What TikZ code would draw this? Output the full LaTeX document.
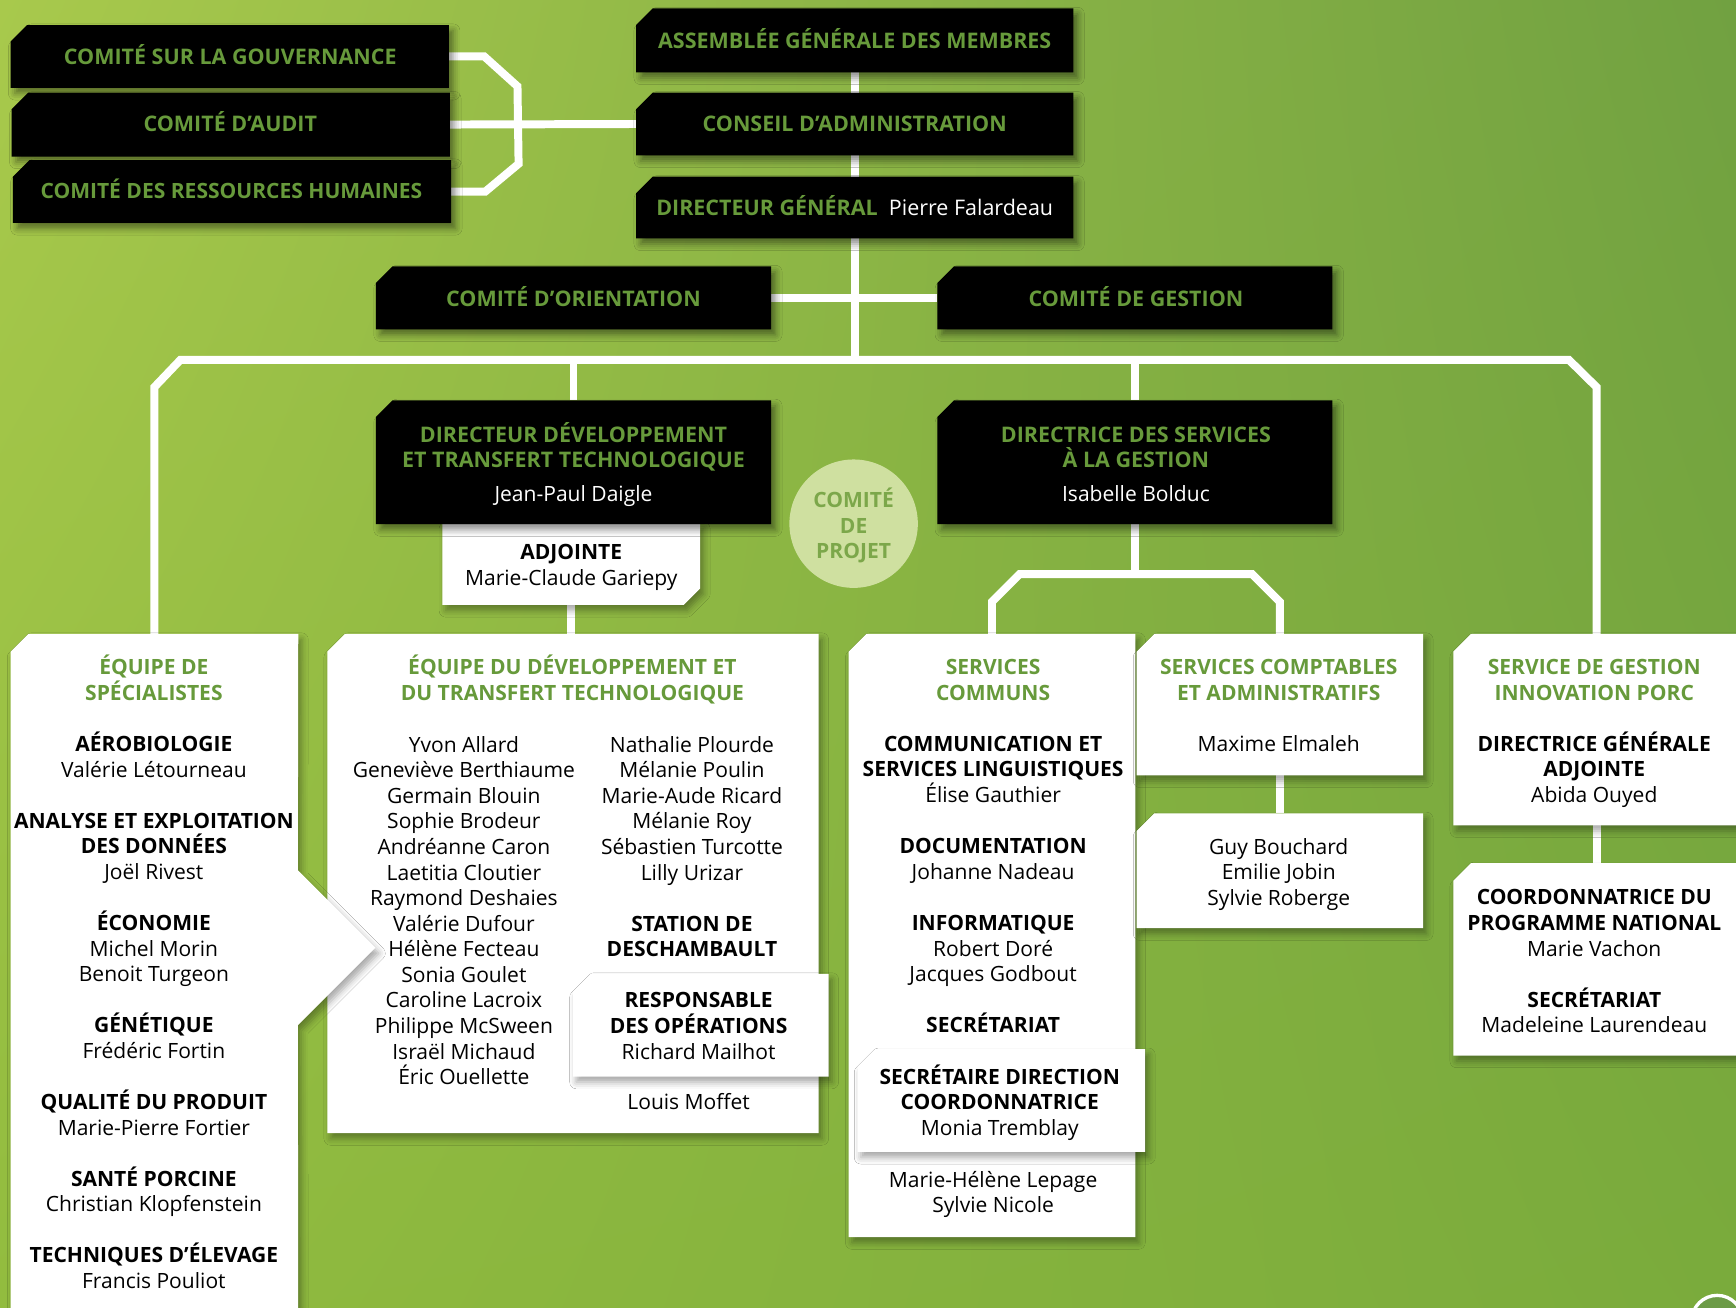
\documentclass[tikz,border=0pt]{standalone}
\usepackage{fontspec}
\setmainfont{Open Sans}
\usetikzlibrary{calc,fit,shadings,shadows.blur}
\definecolor{bgUL}{HTML}{A8C94C}
\definecolor{bgUR}{HTML}{71A141}
\definecolor{bgLL}{HTML}{92BC3F}
\definecolor{bgLR}{HTML}{7AAB3C}
\definecolor{gtxt}{HTML}{679A3B}
\definecolor{cfill}{HTML}{CFE0A0}
\definecolor{ctxt}{HTML}{7CA74A}
\definecolor{iconfill}{HTML}{6C9B47}
\newcommand\fs{\fontsize{9.5pt}{11.55pt}\selectfont}
\newcommand\fsb{\fontsize{9.7pt}{11.55pt}\selectfont}
\newcommand\st{\rule{0pt}{9.5pt}}
\newcommand\ghd[1]{{\bfseries\color{gtxt}#1}}
\newcommand\bkd[1]{{\bfseries #1}}
\newcommand\mkbox[5]{\path (#2,#3) coordinate (#1-nw) (#4,#5) coordinate (#1-se);
  \node[fit=(#1-nw)(#1-se), inner sep=0pt] (#1) {};}
\newcommand\chbox[3]{\fill[#2] ($(#1.north west)+(#3,0)$) -- (#1.north east) -- (#1.south east) -- (#1.south west) -- ($(#1.north west)+(0,#3)$) -- cycle;}
\tikzset{
  conn/.style={draw=white, line width=3.6pt},
  blk/.style={fill=black, blur shadow={shadow xshift=2pt,shadow yshift=-2.5pt,shadow blur radius=3pt,shadow opacity=45}},
  wht/.style={fill=white, blur shadow={shadow xshift=1.5pt,shadow yshift=-2.5pt,shadow blur radius=3pt,shadow opacity=35}},
  tx/.style={font=\fs, align=center, inner sep=0pt, anchor=north},
  txb/.style={font=\fsb, align=center, inner sep=0pt, anchor=north},
}
\begin{document}
\begin{tikzpicture}[x=0.5pt,y=-0.5pt]
\useasboundingbox (0,0) rectangle (1568,1181);
\clip (0,0) rectangle (1568,1181);
\shade[upper left=bgUL, upper right=bgUR, lower left=bgLL, lower right=bgLR] (0,0) rectangle (1568,1181);
% ---------- box frames ----------
\mkbox{B1}{10}{23}{405}{79}
\mkbox{B2}{11}{84}{406}{141}
\mkbox{B3}{12}{145}{407}{201}
\mkbox{A}{575}{8}{969}{65}
\mkbox{C}{575}{84}{969}{140}
\mkbox{D}{575}{160}{969}{215}
\mkbox{O}{340}{241}{696}{297}
\mkbox{G}{847}{241}{1203}{297}
\mkbox{DD}{340}{362}{696}{473}
\mkbox{ADJ}{400}{473}{632}{546}
\mkbox{DSG}{847}{362}{1203}{473}
\mkbox{S1}{10}{573}{269}{1200}
\mkbox{S2}{296}{573}{739}{1023}
\mkbox{RO}{518}{880}{748}{972}
\mkbox{S3}{767}{573}{1025}{1117}
\mkbox{SD}{775}{948}{1034}{1040}
\mkbox{S4}{1027}{573}{1285}{700}
\mkbox{S4b}{1027}{735}{1285}{838}
\mkbox{S5}{1313}{573}{1571}{745}
\mkbox{S5b}{1313}{780}{1571}{953}
\coordinate (busL) at (163,325);
\coordinate (busR) at (1417,325);
% ---------- connectors ----------
\draw[conn] (B1.east) -- ++(32,0) -- ++(30,27) -- ($(B3.east)+(61,-25)$) -- ($(B3.east)+(31,0)$) -- (B3.east);
\draw[conn] (B2.east) -- (C.west);
\draw[conn] (A.south) -- (C.north);
\draw[conn] (C.south) -- (D.north);
\draw[conn] (D.south) -- (D.south |- busL);
\draw[conn] (O.east) -- (G.west);
\draw[conn] (S1.north) -- ($(S1.north)+(0,-223)$) -- (busL) -- (busR) -- ($(S5.north)+(0,-223)$) -- (S5.north);
\draw[conn] (busL -| DD.north) -- (DD.north);
\draw[conn] (busL -| DSG.north) -- (DSG.north);
\draw[conn] (ADJ.south) -- (ADJ.south |- S2.north);
\draw[conn] (DSG.south) -- ($(DSG.south)+(0,46)$);
\draw[conn] (S3.north) -- ++(0,-29) -- ++(25,-25) -- ($(S4.north)+(-25,-54)$) -- ($(S4.north)+(0,-29)$) -- (S4.north);
\draw[conn] (S4.south) -- (S4b.north);
\draw[conn] (S5.south) -- (S5b.north);
% ---------- black boxes ----------
\chbox{B1}{blk}{15}
\chbox{B2}{blk}{15}
\chbox{B3}{blk}{15}
\chbox{A}{blk}{15}
\chbox{C}{blk}{15}
\chbox{D}{blk}{15}
\chbox{O}{blk}{15}
\chbox{G}{blk}{15}
\fill[wht] (ADJ.north west) -- (ADJ.north east) -- ($(ADJ.south east)+(0,-15)$) -- ($(ADJ.south east)+(-15,0)$) -- (ADJ.south west) -- cycle;
\chbox{DD}{blk}{15}
\chbox{DSG}{blk}{15}
\node[circle, fill=cfill, minimum size=58pt, inner sep=0pt] (CP) at (771,473) {};
% ---------- white boxes ----------
\chbox{S2}{wht}{16}
\fill[wht] ($(S1.north west)+(16,0)$) -- (S1.north east) -- (269,786) -- (339,856) -- (269,926) -- (S1.south east) -- (S1.south west) -- ($(S1.north west)+(0,16)$) -- cycle;
\chbox{RO}{wht}{16}
\chbox{S3}{wht}{16}
\chbox{SD}{wht}{16}
\chbox{S4}{wht}{16}
\chbox{S4b}{wht}{16}
\chbox{S5}{wht}{16}
\chbox{S5b}{wht}{16}
\node[circle, fill=iconfill, draw=white, line width=1.5pt, minimum size=23pt] (ICON) at (1551,1193) {};
% ---------- texts ----------
\node[txb] (tB1) at (208,39) {\st\ghd{COMITÉ SUR LA GOUVERNANCE}};
\node[txb] (tB2) at (208,99) {\st\ghd{COMITÉ D’AUDIT}};
\node[tx] (tB3) at (209,160) {\st\ghd{COMITÉ DES RESSOURCES HUMAINES}};
\node[txb] (tA) at (772,24) {\st\ghd{ASSEMBLÉE GÉNÉRALE DES MEMBRES}};
\node[txb] (tC) at (772,99) {\st\ghd{CONSEIL D’ADMINISTRATION}};
\node[txb] (tD) at (772,175) {\st\ghd{DIRECTEUR GÉNÉRAL}\hspace{5pt}{\color{white}Pierre Falardeau}};
\node[txb] (tO) at (518,257) {\st\ghd{COMITÉ D’ORIENTATION}};
\node[txb] (tG) at (1026,257) {\st\ghd{COMITÉ DE GESTION}};
\node[txb] (tDD) at (518,380) {\st\ghd{DIRECTEUR DÉVELOPPEMENT}\\ \ghd{ET TRANSFERT TECHNOLOGIQUE}};
\node[tx, text=white] (tDDn) at (518,434) {\st Jean-Paul Daigle};
\node[txb] (tDSG) at (1026,380) {\st\ghd{DIRECTRICE DES SERVICES}\\ \ghd{À LA GESTION}};
\node[tx, text=white] (tDSGn) at (1026,434) {\st Isabelle Bolduc};
\node[tx] (tADJ) at (516,486) {\st\bkd{ADJOINTE}\\ Marie-Claude Gariepy};
\node[tx, text=ctxt, font=\fs\bfseries] (tCP) at (771,439) {\st COMITÉ\\ DE\\ PROJET};
\node[tx] (tS1) at (139,590) {\st\ghd{ÉQUIPE DE}\\ \ghd{SPÉCIALISTES}\\ ~\\ \bkd{AÉROBIOLOGIE}\\ Valérie Létourneau\\ ~\\ \bkd{ANALYSE ET EXPLOITATION}\\ \bkd{DES DONNÉES}\\ Joël Rivest\\ ~\\ \bkd{ÉCONOMIE}\\ Michel Morin\\ Benoit Turgeon\\ ~\\ \bkd{GÉNÉTIQUE}\\ Frédéric Fortin\\ ~\\ \bkd{QUALITÉ DU PRODUIT}\\ Marie-Pierre Fortier\\ ~\\ \bkd{SANTÉ PORCINE}\\ Christian Klopfenstein\\ ~\\ \bkd{TECHNIQUES D’ÉLEVAGE}\\ Francis Pouliot};
\node[tx] (tS2) at (517,590) {\st\ghd{ÉQUIPE DU DÉVELOPPEMENT ET}\\ \ghd{DU TRANSFERT TECHNOLOGIQUE}};
\node[tx] (tS2a) at (419,660) {\st Yvon Allard\\ Geneviève Berthiaume\\ Germain Blouin\\ Sophie Brodeur\\ Andréanne Caron\\ Laetitia Cloutier\\ Raymond Deshaies\\ Valérie Dufour\\ Hélène Fecteau\\ Sonia Goulet\\ Caroline Lacroix\\ Philippe McSween\\ Israël Michaud\\ Éric Ouellette};
\node[tx] (tS2b) at (625,660) {\st Nathalie Plourde\\ Mélanie Poulin\\ Marie-Aude Ricard\\ Mélanie Roy\\ Sébastien Turcotte\\ Lilly Urizar\\ ~\\ \bkd{STATION DE}\\ \bkd{DESCHAMBAULT}};
\node[tx] (tRO) at (631,891) {\st\bkd{RESPONSABLE}\\ \bkd{DES OPÉRATIONS}\\ Richard Mailhot};
\node[tx] (tLM) at (622,983) {\st Louis Moffet};
\node[tx] (tS3) at (897,590) {\st\ghd{SERVICES}\\ \ghd{COMMUNS}\\ ~\\ \bkd{COMMUNICATION ET}\\ \bkd{SERVICES LINGUISTIQUES}\\ Élise Gauthier\\ ~\\ \bkd{DOCUMENTATION}\\ Johanne Nadeau\\ ~\\ \bkd{INFORMATIQUE}\\ Robert Doré\\ Jacques Godbout\\ ~\\ \bkd{SECRÉTARIAT}};
\node[tx] (tSD) at (903,960) {\st\bkd{SECRÉTAIRE DIRECTION}\\ \bkd{COORDONNATRICE}\\ Monia Tremblay};
\node[tx] (tS3b) at (897,1053) {\st Marie-Hélène Lepage\\ Sylvie Nicole};
\node[tx] (tS4) at (1155,590) {\st\ghd{SERVICES COMPTABLES}\\ \ghd{ET ADMINISTRATIFS}\\ ~\\ Maxime Elmaleh};
\node[tx] (tS4b) at (1155,752) {\st Guy Bouchard\\ Emilie Jobin\\ Sylvie Roberge};
\node[tx] (tS5) at (1440,590) {\st\ghd{SERVICE DE GESTION}\\ \ghd{INNOVATION PORC}\\ ~\\ \bkd{DIRECTRICE GÉNÉRALE}\\ \bkd{ADJOINTE}\\ Abida Ouyed};
\node[tx] (tS5b) at (1440,798) {\st\bkd{COORDONNATRICE DU}\\ \bkd{PROGRAMME NATIONAL}\\ Marie Vachon\\ ~\\ \bkd{SECRÉTARIAT}\\ Madeleine Laurendeau};
\end{tikzpicture}
\end{document}
